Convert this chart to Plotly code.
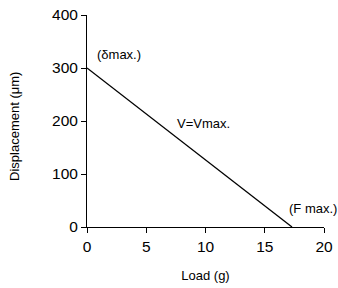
import plotly.graph_objects as go

load_g = [0, 17.3]
displacement_um = [300, 0]

ann_text = ["(δmax.)", "V=Vmax.", "(F max.)"]
ann_x = [0.7, 7.4, 16.9]
ann_y = [325, 196, 34]

x_ticks = [0, 5, 10, 15, 20]
y_ticks = [0, 100, 200, 300, 400]

FONT = "Liberation Sans, Arial, sans-serif"

fig = go.Figure()
fig.add_trace(go.Scatter(x=load_g, y=displacement_um, mode="lines",
                         line=dict(color="black", width=1.3), showlegend=False,
                         hoverinfo="skip"))

for t, x, y in zip(ann_text, ann_x, ann_y):
    fig.add_annotation(x=x, y=y, xref="x", yref="y", text=t, showarrow=False,
                       xanchor="left", yanchor="middle",
                       font=dict(family=FONT, size=13, color="black"))

# y-axis title placed slightly below the plot's vertical centre, as in the reference
fig.add_annotation(x=0, y=0.472, xref="paper", yref="paper", xshift=-72,
                   text="Displacement (μm)", textangle=-90, showarrow=False,
                   xanchor="center", yanchor="middle",
                   font=dict(family=FONT, size=13, color="black"))

axis_common = dict(showline=True, linecolor="black", linewidth=1, showgrid=False,
                   zeroline=False, ticks="outside", ticklen=5, tickcolor="black",
                   tickwidth=1, ticklabeloverflow="allow",
                   tickfont=dict(family=FONT, size=15.5, color="black"))

fig.update_xaxes(range=[0, 20], tickvals=x_ticks,
                 title=dict(text="Load (g)", font=dict(family=FONT, size=13, color="black"), standoff=17),
                 **axis_common)
fig.update_yaxes(range=[0, 400], tickvals=y_ticks, **axis_common)

fig.update_layout(width=338, height=288, margin=dict(l=87, r=14, t=15, b=61, autoexpand=False),
                  plot_bgcolor="white", paper_bgcolor="white",
                  font=dict(family=FONT, color="black"))

fig.write_html("out.html", config={"displayModeBar": False},
               post_script="document.body.style.margin='0';document.body.style.overflow='hidden';")
